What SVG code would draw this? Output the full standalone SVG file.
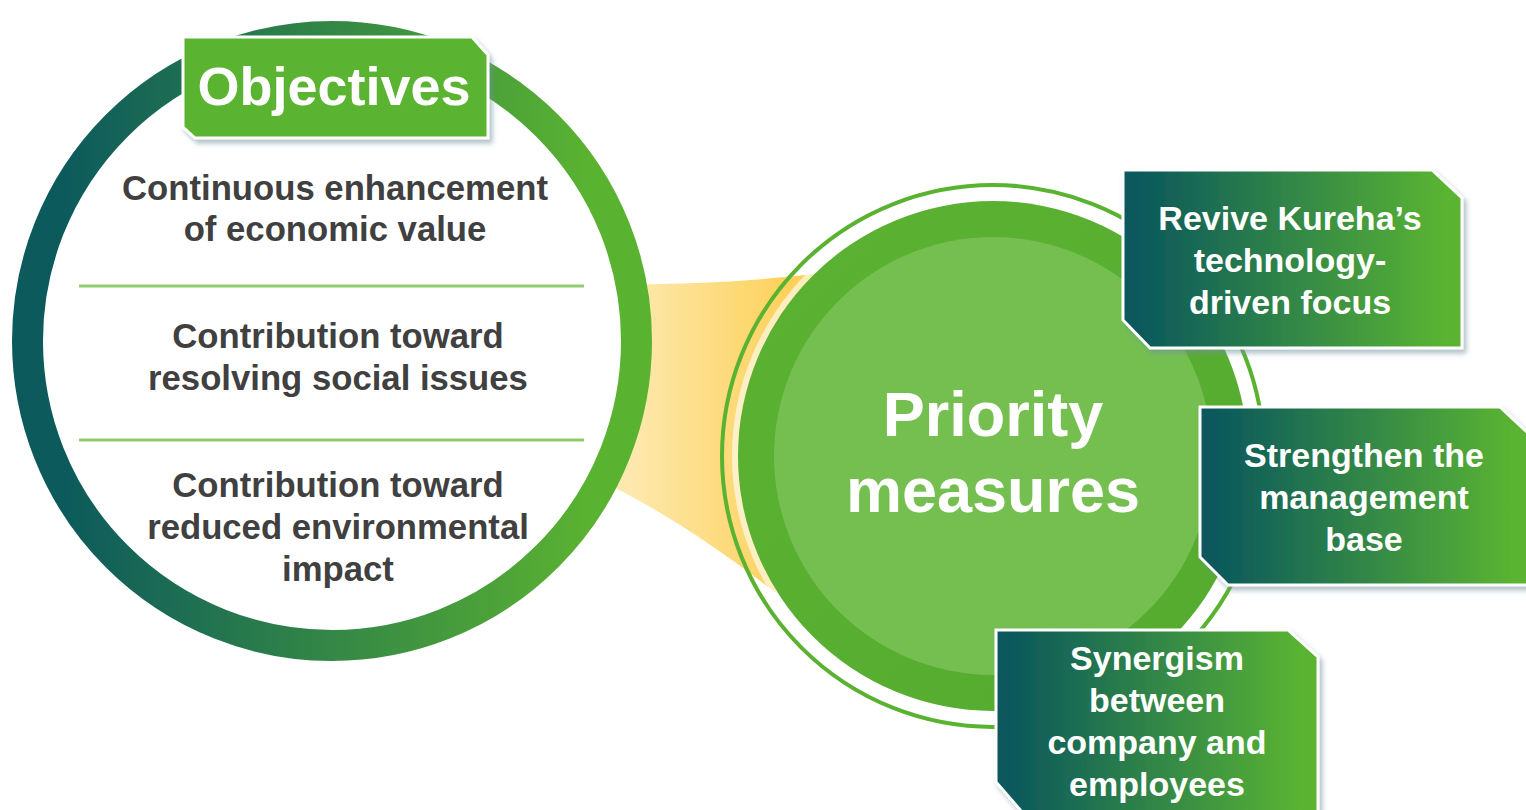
<svg xmlns="http://www.w3.org/2000/svg" width="1526" height="810" viewBox="0 0 1526 810">
  <defs>
    <linearGradient id="ringGrad" gradientUnits="userSpaceOnUse" x1="12" y1="0" x2="652" y2="0">
      <stop offset="0.08" stop-color="#0c5a5c"/>
      <stop offset="0.9" stop-color="#5ab231"/>
    </linearGradient>
    <linearGradient id="boxGrad" x1="0" y1="0" x2="1" y2="0">
      <stop offset="0.05" stop-color="#0b595c"/>
      <stop offset="0.95" stop-color="#5ab432"/>
    </linearGradient>
    <linearGradient id="beamGrad" gradientUnits="userSpaceOnUse" x1="630" y1="0" x2="790" y2="0">
      <stop offset="0" stop-color="#fde9ae"/>
      <stop offset="1" stop-color="#fdd15a"/>
    </linearGradient>
    <linearGradient id="diskGrad" x1="0" y1="0" x2="1" y2="1">
      <stop offset="0" stop-color="#5bb232"/>
      <stop offset="1" stop-color="#55ab2e"/>
    </linearGradient>
    <filter id="shadow" x="-10%" y="-10%" width="125%" height="130%">
      <feDropShadow dx="3" dy="4" stdDeviation="2.5" flood-color="#6f8f9c" flood-opacity="0.55"/>
    </filter>
    <style>
      .obj { font-family: "Liberation Sans", Arial, sans-serif; font-weight: bold; font-size: 34.7px; fill: #404040; text-anchor: middle; }
      .wt { font-family: "Liberation Sans", Arial, sans-serif; font-weight: bold; fill: #ffffff; text-anchor: middle; }
      .bt { font-size: 34px; }
      .box { fill: url(#boxGrad); stroke: #ffffff; stroke-width: 3; filter: url(#shadow); }
      .divider { stroke: #92cc72; stroke-width: 3; }
    </style>
  </defs>

  <g id="connectors">
    <path id="beam" d="M 600 284 C 680 285 750 282 830 272 L 830 620 L 775 592 C 720 550 670 515 600 480 Z" fill="url(#beamGrad)"/>
  </g>

  <g id="objectives-circle">
    <circle cx="332" cy="341" r="304.5" fill="#ffffff" stroke="url(#ringGrad)" stroke-width="31"/>
    <line class="divider" x1="79" y1="286" x2="584" y2="286"/>
    <line class="divider" x1="79" y1="440" x2="584" y2="440"/>
    <text class="obj" x="335" y="200">Continuous enhancement</text>
    <text class="obj" x="335" y="241">of economic value</text>
    <text class="obj" x="338" y="348">Contribution toward</text>
    <text class="obj" x="338" y="390">resolving social issues</text>
    <text class="obj" x="338" y="497">Contribution toward</text>
    <text class="obj" x="338" y="539">reduced environmental</text>
    <text class="obj" x="338" y="581">impact</text>
  </g>

  <g id="objectives-label">
    <polygon points="183,37 472,37 488,55 488,138 195,138 183,127" fill="#5ab432" stroke="#ffffff" stroke-width="3" filter="url(#shadow)"/>
    <text class="wt" x="334" y="105" font-size="54">Objectives</text>
  </g>

  <g id="priority-circle">
    <circle cx="993" cy="456" r="261" fill="#ffffff" fill-opacity="0.6"/>
    <circle cx="993" cy="456" r="271" fill="none" stroke="#5ab231" stroke-width="4"/>
    <circle cx="993" cy="456" r="255" fill="url(#diskGrad)"/>
    <circle cx="993" cy="456" r="219" fill="#74bf50"/>
    <text class="wt" x="993" y="436" font-size="63">Priority</text>
    <text class="wt" x="993" y="512" font-size="63">measures</text>
  </g>

  <g id="measure-1">
    <polygon class="box" points="1123,170 1432,170 1462,198 1462,348 1150,348 1123,320"/>
    <text class="wt bt" x="1290" y="230">Revive Kureha’s</text>
    <text class="wt bt" x="1290" y="272">technology-</text>
    <text class="wt bt" x="1290" y="314">driven focus</text>
  </g>

  <g id="measure-2">
    <polygon class="box" points="1200,407 1500,407 1530,435 1530,585 1228,585 1200,557"/>
    <text class="wt bt" x="1364" y="467">Strengthen the</text>
    <text class="wt bt" x="1364" y="509">management</text>
    <text class="wt bt" x="1364" y="551">base</text>
  </g>

  <g id="measure-3">
    <polygon class="box" points="996,630 1288,630 1318,657 1318,812 1022,812 996,782"/>
    <text class="wt bt" x="1157" y="670">Synergism</text>
    <text class="wt bt" x="1157" y="712">between</text>
    <text class="wt bt" x="1157" y="754">company and</text>
    <text class="wt bt" x="1157" y="796">employees</text>
  </g>
</svg>
